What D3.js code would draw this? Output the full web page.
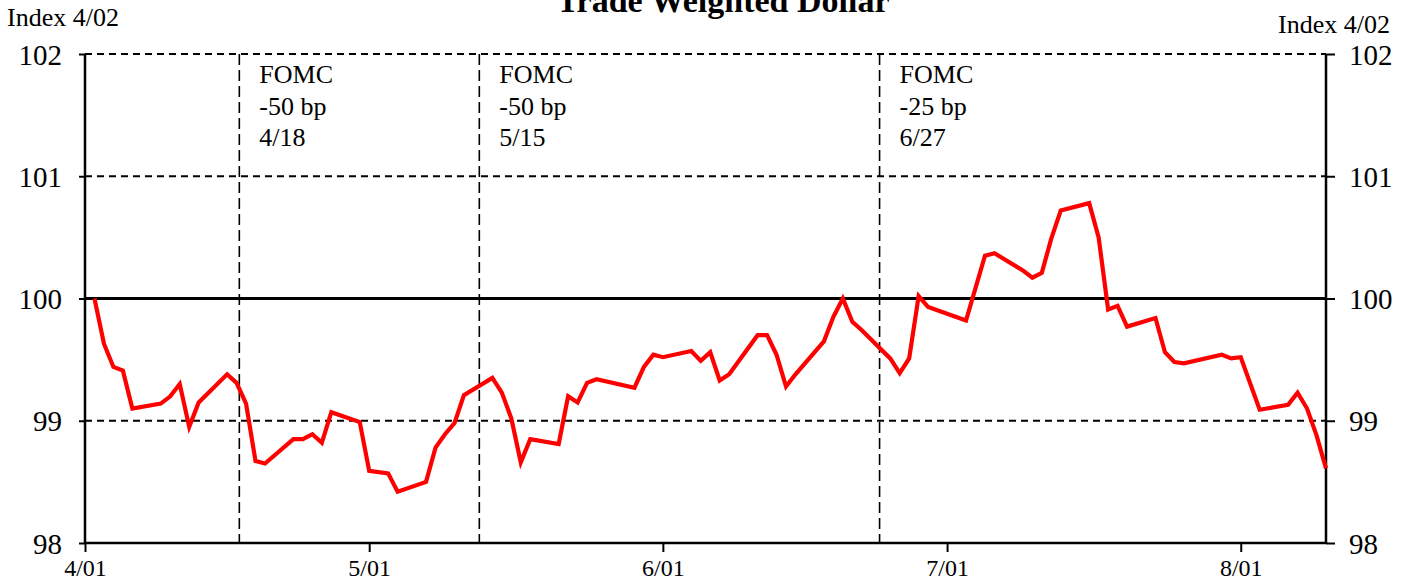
<!DOCTYPE html>
<html>
<head>
<meta charset="utf-8">
<script src="https://cdnjs.cloudflare.com/ajax/libs/d3/7.8.5/d3.min.js"></script>
<style>
  body { margin: 0; background: #fff; }
  svg text { font-family: "Liberation Serif", "Times New Roman", serif; fill: #000; }
</style>
</head>
<body>
<div id="chart"></div>
<script>
// daily index, 4/02 = 100
var days = [
  '2001-04-02','2001-04-03','2001-04-04','2001-04-05','2001-04-06','2001-04-09','2001-04-10','2001-04-11','2001-04-12','2001-04-13',
  '2001-04-16','2001-04-17','2001-04-18','2001-04-19','2001-04-20','2001-04-23','2001-04-24','2001-04-25','2001-04-26','2001-04-27',
  '2001-04-30','2001-05-01','2001-05-03','2001-05-04','2001-05-07','2001-05-08','2001-05-09','2001-05-10','2001-05-11','2001-05-14',
  '2001-05-15','2001-05-16','2001-05-17','2001-05-18','2001-05-21','2001-05-22','2001-05-23','2001-05-24','2001-05-25','2001-05-29',
  '2001-05-30','2001-05-31','2001-06-01','2001-06-04','2001-06-05','2001-06-06','2001-06-07','2001-06-08','2001-06-11','2001-06-12',
  '2001-06-13','2001-06-14','2001-06-15','2001-06-18','2001-06-19','2001-06-20','2001-06-21','2001-06-22','2001-06-25','2001-06-26',
  '2001-06-27','2001-06-28','2001-06-29','2001-07-03','2001-07-05','2001-07-06','2001-07-09','2001-07-10','2001-07-11','2001-07-12',
  '2001-07-13','2001-07-16','2001-07-17','2001-07-18','2001-07-19','2001-07-20','2001-07-23','2001-07-24','2001-07-25','2001-07-26',
  '2001-07-30','2001-07-31','2001-08-01','2001-08-03','2001-08-06','2001-08-07','2001-08-08','2001-08-09','2001-08-10'
];
var index = [
  100.00, 99.63, 99.44, 99.41, 99.10, 99.14, 99.20, 99.30, 98.95, 99.15,
  99.38, 99.31, 99.14, 98.67, 98.65, 98.85, 98.85, 98.89, 98.82, 99.07,
  98.99, 98.59, 98.57, 98.42, 98.50, 98.78, 98.89, 98.98, 99.21, 99.35,
  99.23, 99.02, 98.66, 98.85, 98.81, 99.20, 99.15, 99.31, 99.34, 99.27,
  99.44, 99.54, 99.52, 99.57, 99.49, 99.56, 99.33, 99.38, 99.70, 99.70,
  99.54, 99.28, 99.38, 99.65, 99.85, 100.00, 99.81, 99.74, 99.51, 99.39,
  99.51, 100.02, 99.93, 99.82, 100.35, 100.37, 100.23, 100.17, 100.21, 100.49,
  100.72, 100.78, 100.50, 99.91, 99.94, 99.77, 99.84, 99.56, 99.48, 99.47,
  99.54, 99.51, 99.52, 99.09, 99.13, 99.23, 99.10, 98.88, 98.61
];

var yTicks = [98, 99, 100, 101, 102];
var xTickDays = ['2001-04-01', '2001-05-01', '2001-06-01', '2001-07-01', '2001-08-01'];
var xTickLabels = ['4/01', '5/01', '6/01', '7/01', '8/01'];

// FOMC markers (where the dashed line sits on the chart) + label text
var fomcLineAt = ['2001-04-17T07:00', '2001-05-12T15:00', '2001-06-23T21:00'];
var fomcMove = ['-50 bp', '-50 bp', '-25 bp'];
var fomcDay = ['4/18', '5/15', '6/27'];

var title = 'Trade Weighted Dollar';
var unitLabel = 'Index 4/02';

var parseDay = d3.timeParse('%Y-%m-%d');
var parseStamp = d3.timeParse('%Y-%m-%dT%H:%M');

var chart = {
  width: 1408,
  height: 584,
  margin: { left: 85, right: 82, top: 54, bottom: 41 }
};
chart.plotW = chart.width - chart.margin.left - chart.margin.right;
chart.plotH = chart.height - chart.margin.top - chart.margin.bottom;

var svg = d3.select('#chart').append('svg')
  .attr('width', chart.width)
  .attr('height', chart.height);

var x = d3.scaleTime()
  .domain([parseDay('2001-04-01'), parseDay('2001-08-10')])
  .range([0, chart.plotW]);

var y = d3.scaleLinear()
  .domain([98, 102])
  .range([chart.plotH, 0]);

var g = svg.append('g')
  .attr('transform', 'translate(' + chart.margin.left + ',' + chart.margin.top + ')');

// dashed horizontal grid
g.append('g').selectAll('line')
  .data(yTicks.filter(function(t){ return t > 98; }))
  .enter().append('line')
    .attr('x1', 0)
    .attr('x2', chart.plotW)
    .attr('y1', function(d){ return y(d); })
    .attr('y2', function(d){ return y(d); })
    .attr('stroke', '#000')
    .attr('stroke-width', 2)
    .attr('stroke-dasharray', '7,5');

// solid 100 line
g.append('line')
  .attr('x1', 0)
  .attr('x2', chart.plotW)
  .attr('y1', y(100))
  .attr('y2', y(100))
  .attr('stroke', '#000')
  .attr('stroke-width', 3);

// FOMC verticals
var fomc = g.append('g').attr('class', 'fomc');
fomcLineAt.forEach(function(s, i){
  var fx = x(parseStamp(s));
  fomc.append('line')
    .attr('x1', fx).attr('x2', fx)
    .attr('y1', 0).attr('y2', chart.plotH)
    .attr('stroke', '#000')
    .attr('stroke-width', 1.6)
    .attr('stroke-dasharray', '11,5');
  var lbl = fomc.append('text')
    .attr('x', fx + 20)
    .attr('y', 29)
    .style('font-size', '26px');
  [ 'FOMC', fomcMove[i], fomcDay[i] ].forEach(function(t, j){
    lbl.append('tspan')
      .attr('x', fx + 20)
      .attr('dy', j === 0 ? 0 : 31.5)
      .text(t);
  });
});

// axes
var fmtY = d3.format('d');
var yLeft = g.append('g')
  .call(d3.axisLeft(y).tickValues(yTicks).tickSize(6).tickPadding(17).tickFormat(fmtY));
var yRight = g.append('g')
  .attr('transform', 'translate(' + chart.plotW + ',0)')
  .call(d3.axisRight(y).tickValues(yTicks).tickSize(9).tickPadding(14).tickFormat(fmtY));
var xAxis = g.append('g')
  .attr('transform', 'translate(0,' + chart.plotH + ')')
  .call(d3.axisBottom(x)
    .tickValues(xTickDays.map(parseDay))
    .tickSize(9)
    .tickPadding(7)
    .tickFormat(function(d, i){ return xTickLabels[i]; }));

[yLeft, yRight, xAxis].forEach(function(ax){
  ax.select('.domain').attr('stroke', '#000').attr('stroke-width', 2.5);
  ax.selectAll('.tick line').attr('stroke', '#000').attr('stroke-width', 2);
});
yLeft.selectAll('.tick text').style('font-size', '29px').attr('dy', '0.35em');
yRight.selectAll('.tick text').style('font-size', '29px').attr('dy', '0.35em');
xAxis.selectAll('.tick text').style('font-size', '24px');
// domain paths have outer ticks, flatten them
yLeft.select('.domain').attr('d', 'M0,0V' + chart.plotH);
yRight.select('.domain').attr('d', 'M0,0V' + chart.plotH);
xAxis.select('.domain').attr('d', 'M0,0H' + chart.plotW);

// the series
var series = days.map(function(d, i){ return { date: parseDay(d), value: index[i] }; });
var line = d3.line()
  .x(function(d){ return x(d.date); })
  .y(function(d){ return y(d.value); });

g.append('path')
  .datum(series)
  .attr('d', line)
  .attr('fill', 'none')
  .attr('stroke', '#ff0000')
  .attr('stroke-width', 4.2)
  .attr('stroke-linejoin', 'miter');

// titles
svg.append('text')
  .attr('x', 723)
  .attr('y', 12)
  .attr('text-anchor', 'middle')
  .style('font-size', '34px')
  .style('font-weight', 'bold')
  .text(title);

svg.append('text')
  .attr('x', 7)
  .attr('y', 26)
  .style('font-size', '26px')
  .text(unitLabel);

svg.append('text')
  .attr('x', 1390)
  .attr('y', 33)
  .attr('text-anchor', 'end')
  .style('font-size', '26px')
  .text(unitLabel);
</script>
</body>
</html>
